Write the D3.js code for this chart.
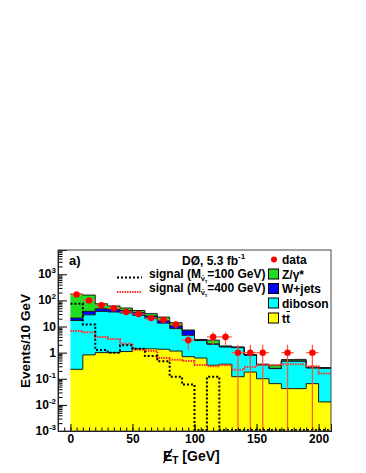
<!DOCTYPE html>
<html>
<head>
<meta charset="utf-8">
<script src="https://cdn.jsdelivr.net/npm/d3@7"></script>
<style>
  body { margin: 0; background: #fff; }
  svg text { font-family: 'Liberation Sans', Arial, sans-serif; font-weight: bold; fill: #000; }
</style>
</head>
<body>
<div id="chart"></div>
<script>
// Histogram bins (lower edges, 10 GeV wide)
const binLow = d3.range(0, 210, 10);
const binWidth = 10;

// Background components (events / 10 GeV), stacked bottom to top
const ttbar   = [0.23, 0.82, 1.0, 1.0, 1.1, 1.4, 1.4, 1.35, 1.15, 0.7, 0.62, 0.33, 0.36, 0.12, 0.18, 0.10, 0.065, 0.042, 0.042, 0.065, 0.013];
const diboson = [16.8, 27.2, 37, 35, 31.9, 25.6, 18.6, 12.15, 7.15, 3.9, 2.28, 1.77, 1.29, 1.43, 0.62, 0.24, 0.18, 0.43, 0.43, 0.195, 0.237];
const wjets   = [4, 10, 10, 9, 8, 7, 5, 3.5, 2.2, 2.5, 0.2, 0.05, 0.05, 0.05, 0.02, 0.01, 0.005, 0.01, 0.01, 0.005, 0.01];
const zgamma  = [154, 122, 26, 16, 10, 7, 6, 6, 3.5, 0.2, 0.1, 0.85, 0.1, 0.05, 0.03, 0.01, 0.08, 0.06, 0.07, 0.015, 0.01];

// Signal shapes
const sig100 = [75, 12, 1.25, 1.0, 1.9, 1.4, 0.75, 0.47, 0.12, 0.06, 0, 0.12, 0, 0, 0, 0, 0, 0, 0, 0, 0];
const sig400 = [6.7, 6.0, 4.0, 3.3, 2.2, 1.3, 1.15, 0.62, 0.53, 0.48, 0.34, 0.3, 0.33, 0.22, 0.28, 0.35, 0.33, 0.36, 0.36, 0.3, 0.16];

// Observed events
const dataCounts = [170, 100, 65, 50, 36, 30, 21, 18, 12, 3, 0, 4, 4, 1, 1, 1, 0, 1, 0, 1, 0];

const xTicks = [0, 50, 100, 150, 200];
const yTicks = [1e-3, 1e-2, 1e-1, 1, 10, 100, 1000];

const width = 366;
const height = 473;
const margin = { top: 250, right: 35, bottom: 42, left: 58 };
const yMin = 1e-3;

const svg = d3.select('#chart').append('svg')
  .attr('width', width)
  .attr('height', height);

const x = d3.scaleLinear()
  .domain([-10, 210])
  .range([margin.left, width - margin.right]);

const y = d3.scaleLog()
  .domain([yMin, 8500])
  .range([height - margin.bottom, margin.top]);

const yv = v => y(Math.max(v, yMin));

// Build stacked layers
const rows = binLow.map((b, i) => ({
  bin: b, ttbar: ttbar[i], diboson: diboson[i], wjets: wjets[i], zgamma: zgamma[i]
}));
const keys = ['ttbar', 'diboson', 'wjets', 'zgamma'];
const colors = { ttbar: '#ffff00', diboson: '#00ffff', wjets: '#0000ff', zgamma: '#22dd22' };
const layers = d3.stack().keys(keys)(rows);

function steps(series) {
  const pts = [];
  series.forEach(d => {
    pts.push({ x: d.data.bin, y0: d[0], y1: d[1] });
    pts.push({ x: d.data.bin + binWidth, y0: d[0], y1: d[1] });
  });
  return pts;
}

const area = d3.area()
  .x(d => x(d.x))
  .y0(d => yv(d.y0))
  .y1(d => yv(d.y1));

const topLine = d3.line()
  .x(d => x(d.x))
  .y(d => yv(d.y1));

const plot = svg.append('g');

layers.forEach(layer => {
  plot.append('path')
    .attr('d', area(steps(layer)))
    .attr('fill', colors[layer.key])
    .attr('stroke', 'none');
});
layers.forEach(layer => {
  plot.append('path')
    .attr('d', topLine(steps(layer)))
    .attr('fill', 'none')
    .attr('stroke', '#1a1a1a')
    .attr('stroke-width', 1);
});

// Signal histograms
function sigSteps(vals) {
  const pts = [];
  vals.forEach((v, i) => {
    pts.push([binLow[i], v]);
    pts.push([binLow[i] + binWidth, v]);
  });
  return pts;
}
const sigLine = d3.line()
  .x(d => x(d[0]))
  .y(d => Math.min(yv(d[1]), height - margin.bottom - 1));

plot.append('path')
  .attr('d', sigLine(sigSteps(sig400)))
  .attr('fill', 'none')
  .attr('stroke', '#ff3030')
  .attr('stroke-width', 2)
  .attr('stroke-dasharray', '1.5,1');

plot.append('path')
  .attr('d', sigLine(sigSteps(sig100)))
  .attr('fill', 'none')
  .attr('stroke', '#000')
  .attr('stroke-width', 2)
  .attr('stroke-dasharray', '2,2');

// Data points with Poisson errors
const pts = binLow.map((b, i) => ({ c: b + binWidth / 2, n: dataCounts[i] })).filter(d => d.n > 0);
const dataG = plot.append('g');
pts.forEach(d => {
  const err = Math.sqrt(d.n);
  dataG.append('line')
    .attr('x1', x(d.c)).attr('x2', x(d.c))
    .attr('y1', yv(d.n - err)).attr('y2', yv(d.n + err))
    .attr('stroke', '#ff5533').attr('stroke-width', 1.2);
  dataG.append('line')
    .attr('x1', x(d.c - binWidth / 2)).attr('x2', x(d.c + binWidth / 2))
    .attr('y1', y(d.n)).attr('y2', y(d.n))
    .attr('stroke', '#ff5533').attr('stroke-width', 1.2);
});
dataG.selectAll('circle')
  .data(pts)
  .join('circle')
  .attr('cx', d => x(d.c))
  .attr('cy', d => y(d.n))
  .attr('r', 3.2)
  .attr('fill', '#ff0000');

// Axes
const xAxisG = svg.append('g')
  .attr('transform', `translate(0,${height - margin.bottom})`);
xAxisG.call(d3.axisBottom(x).tickValues(d3.range(-10, 211, 5)).tickSize(-3.5).tickFormat(''));
xAxisG.append('g').call(d3.axisBottom(x).tickValues(xTicks).tickSize(-7).tickPadding(3));
xAxisG.selectAll('path.domain').attr('stroke', '#000');
xAxisG.selectAll('text')
  .style('font-size', '12px')
  .style('font-family', "'Liberation Sans', Arial, sans-serif")
  .style('font-weight', 'bold');

const minorY = [];
for (let e = -3; e <= 3; e++) {
  for (let k = 2; k <= 9; k++) minorY.push(k * Math.pow(10, e));
}
const yAxisG = svg.append('g')
  .attr('transform', `translate(${margin.left},0)`);
yAxisG.call(d3.axisLeft(y).tickValues(minorY.filter(v => v < 8500)).tickSize(-4.5).tickFormat(''));
yAxisG.append('g').call(d3.axisLeft(y).tickValues(yTicks).tickSize(-9).tickPadding(3).tickFormat(''));

// y tick labels in ROOT style (10^n)
yTicks.forEach(v => {
  const e = Math.round(Math.log10(v));
  const t = svg.append('text')
    .attr('x', 56)
    .attr('y', y(v) + 4)
    .attr('text-anchor', 'end')
    .style('font-size', '12px');
  if (e === 0) t.text('1');
  else if (e === 1) t.text('10');
  else {
    t.append('tspan').text('10');
    t.append('tspan').attr('dy', -5).style('font-size', '8px').text(String(e));
  }
});

// Frame
svg.append('rect')
  .attr('x', margin.left).attr('y', margin.top)
  .attr('width', width - margin.right - margin.left)
  .attr('height', height - margin.bottom - margin.top)
  .attr('fill', 'none')
  .attr('stroke', '#444')
  .attr('stroke-width', 1);

// Axis titles
svg.append('text')
  .attr('transform', `translate(30,341) rotate(-90)`)
  .attr('text-anchor', 'middle')
  .style('font-size', '13.5px')
  .text('Events/10 GeV');

const xt = svg.append('text')
  .attr('x', 163).attr('y', 461)
  .style('font-size', '14px');
xt.append('tspan').text('E');
xt.append('tspan').attr('dy', 3).style('font-size', '10px').text('T');
xt.append('tspan').attr('dy', -3).text(' [GeV]');
svg.append('line')
  .attr('x1', 163.5).attr('y1', 463).attr('x2', 172).attr('y2', 449)
  .attr('stroke', '#000').attr('stroke-width', 1.4);

// Labels on the plot
svg.append('text').attr('x', 69).attr('y', 265).style('font-size', '13px').text('a)');
const dz = svg.append('text').attr('x', 182).attr('y', 265).style('font-size', '12px');
dz.append('tspan').text('DØ, 5.3 fb');
dz.append('tspan').attr('dy', -6).style('font-size', '8px').text('-1');

// Signal legend
const sigLegend = [
  { label: '=100 GeV)', y: 277.5, color: '#000', dash: '2,2' },
  { label: '=400 GeV)', y: 292, color: '#ff3030', dash: '1.5,1' }
];
sigLegend.forEach(s => {
  svg.append('line')
    .attr('x1', 117).attr('x2', 142)
    .attr('y1', s.y).attr('y2', s.y)
    .attr('stroke', s.color).attr('stroke-width', 2)
    .attr('stroke-dasharray', s.dash);
  const t = svg.append('text').attr('x', 149).attr('y', s.y).style('font-size', '12px');
  t.append('tspan').text('signal (M');
  t.append('tspan').attr('dy', 3).style('font-size', '7px').text('ν̃');
  t.append('tspan').attr('dy', 2).style('font-size', '5px').text('τ');
  t.append('tspan').attr('dy', -5).text(s.label);
});

// Right legend
svg.append('circle').attr('cx', 274).attr('cy', 259.5).attr('r', 3).attr('fill', '#ff0000');
svg.append('text').attr('x', 282).attr('y', 264).style('font-size', '12px').text('data');

const boxLegend = [
  { key: 'zgamma', label: 'Z/γ*', y: 269 },
  { key: 'wjets', label: 'W+jets', y: 283.5 },
  { key: 'diboson', label: 'diboson', y: 298 },
  { key: 'ttbar', label: 'tt', y: 313 }
];
boxLegend.forEach(b => {
  svg.append('rect')
    .attr('x', 268.5).attr('y', b.y)
    .attr('width', 10).attr('height', 10)
    .attr('fill', colors[b.key])
    .attr('stroke', '#000').attr('stroke-width', 1);
  const t = svg.append('text').attr('x', 282).attr('y', b.y + 9.5).style('font-size', '12px').text(b.label);
  if (b.key === 'ttbar') {
    const w = t.node().getComputedTextLength();
    svg.append('line')
      .attr('x1', 282 + w / 2 + 0.5).attr('x2', 282 + w)
      .attr('y1', b.y - 1.5).attr('y2', b.y - 1.5)
      .attr('stroke', '#000').attr('stroke-width', 1);
  }
});
</script>
</body>
</html>
